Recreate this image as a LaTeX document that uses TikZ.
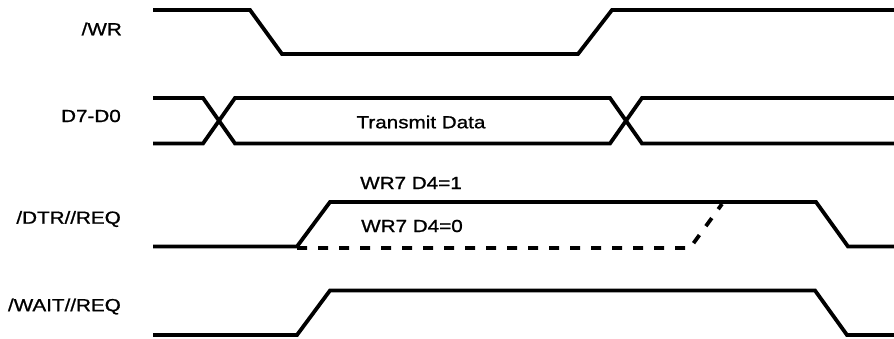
\documentclass[tikz,border=0pt]{standalone}
\usepackage{fontspec}
\setmainfont{Liberation Sans}
\newfontfamily\labfont[FakeBold=0.9]{Liberation Sans}
\begin{document}
\begin{tikzpicture}[x=1pt,y=-1pt,
  wave/.style={line width=3.8pt,line join=miter,line cap=butt},
  dashwave/.style={wave,dash pattern=on 10pt off 11pt},
  sig/.style={anchor=east,inner sep=0pt,font=\labfont\fontsize{17.5}{17.5}\selectfont},
  txt/.style={anchor=center,inner sep=0pt,font=\labfont\fontsize{17.5}{17.5}\selectfont}]
\useasboundingbox (0,0) rectangle (894,339);
\newcommand{\wide}[1]{\scalebox{1.18}[1]{#1}}
% labels
\node[sig] (lwr)   at (122,29)  {\wide{/WR}};
\node[sig] (ld)    at (121,116) {\wide{D7-D0}};
\node[sig] (ldtr)  at (121,219) {\wide{/DTR//REQ}};
\node[sig] (lwait) at (121,306.5) {\wide{/WAIT//REQ}};
\node[txt] (tdata) at (421,122) {\wide{Transmit Data}};
\node[txt] (d41)   at (411,183) {\wide{WR7 D4=1}};
\node[txt] (d40)   at (412,226) {\wide{WR7 D4=0}};
% /WR
\draw[wave] (153,10) -- (250,10) -- (282,54) -- (578,54) -- (612,10) -- (894,10);
% D7-D0
\draw[wave] (153,98) -- (203,98) -- (235,143.5) -- (610,143.5) -- (642,98) -- (894,98);
\draw[wave] (153,143.5) -- (203,143.5) -- (235,98) -- (610,98) -- (642,143.5) -- (894,143.5);
% /DTR//REQ
\draw[wave] (153,246.5) -- (297,246.5) -- (330,202) -- (816,202) -- (848,246.5) -- (894,246.5);
\draw[dashwave] (297,248) -- (690,248) -- (722,204);
% /WAIT//REQ
\draw[wave] (153,335) -- (297,335) -- (330,290.5) -- (815,290.5) -- (847,335) -- (894,335);
\end{tikzpicture}
\end{document}
